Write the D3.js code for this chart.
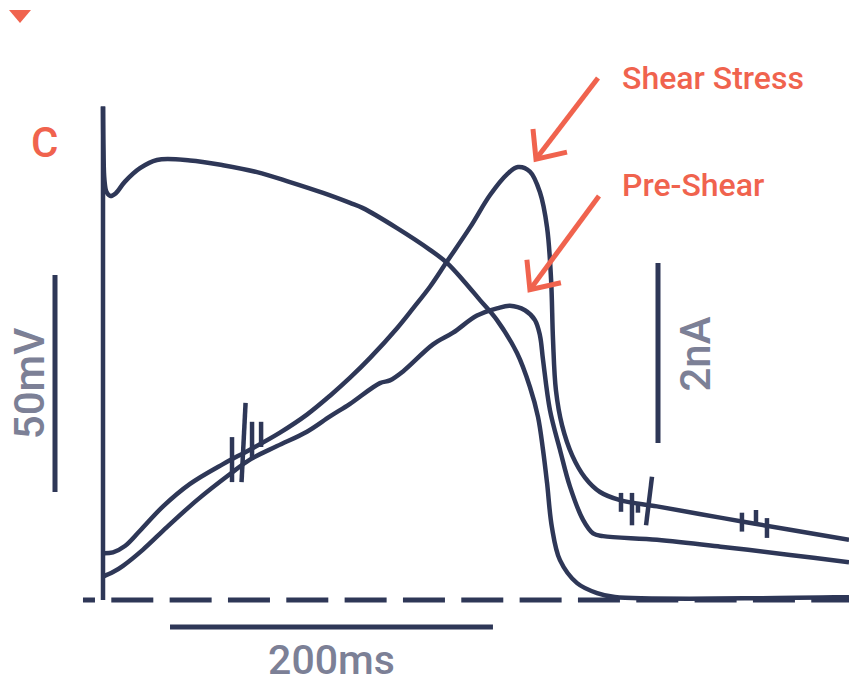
<!DOCTYPE html>
<html>
<head>
<meta charset="utf-8">
<script src="https://cdn.jsdelivr.net/npm/d3@7"></script>
<style>
  html, body { margin: 0; padding: 0; background: #ffffff; }
  svg { display: block; }
</style>
</head>
<body>
<svg id="fig" width="849" height="684"></svg>
<script>
// Action potential waveform used as the voltage command: [time ms, membrane potential mV]
const apTime = [0, 0.3, 0.9, 2.2, 4.6, 7.8, 13.6, 22.9, 33.4, 53.9, 74.3, 95.4, 115.8, 136.3, 153, 161,
  182.1, 202.5, 213, 223, 233.5, 244, 256.4, 264.4, 269.4, 272.5, 275, 278, 283, 293.6, 306, 317, 462];
const apVoltage = [28, 18, 11.1, 8.3, 7.4, 8.0, 10.7, 13.8, 15.7, 15.6, 14.5, 12.9, 10.6, 8.1, 5.8, 4.6,
  0.0, -5.0, -8.0, -12.0, -16.6, -21.2, -28.8, -36.6, -43.5, -51.1, -58.7, -68.9, -76.5, -81.8, -84.1, -85, -85];

// Current recorded before shear: [time ms, current nA]
const preShearTime = [0, 6.2, 12.4, 24.8, 39.6, 58.2, 78.7, 91, 107.8, 126.3, 140.6, 153, 171.5, 177.7, 185.8,
  204.4, 216.8, 231.6, 244, 252, 261.3, 267.5, 270.6, 272.5, 276.8, 283, 289.2, 297.3, 303.5, 309.7, 343.1, 384, 425.5, 462];
const preShearCurrent = [0.26, 0.31, 0.38, 0.56, 0.81, 1.11, 1.40, 1.56, 1.71, 1.87, 2.04, 2.18, 2.41, 2.44, 2.54,
  2.84, 2.97, 3.16, 3.24, 3.27, 3.22, 3.11, 2.94, 2.67, 2.11, 1.67, 1.26, 0.89, 0.74, 0.71, 0.67, 0.59, 0.50, 0.42];

// Current recorded under shear stress: [time ms, current nA]
const shearTime = [0, 6.2, 13.6, 22.9, 37.2, 53.9, 74.3, 91, 109.6, 126.3, 140.6, 153, 165.4, 182.1, 192, 202.5,
  213, 227.3, 239.7, 250.2, 257, 264.4, 270.6, 275, 277.5, 278.7, 280.5, 284.3, 290.5, 298.5, 307.8, 320.2, 343.1, 384, 425.5, 462];
const shearCurrent = [0.52, 0.53, 0.60, 0.77, 1.04, 1.29, 1.51, 1.67, 1.86, 2.06, 2.27, 2.47, 2.69, 3.02, 3.24, 3.48,
  3.76, 4.14, 4.50, 4.73, 4.81, 4.76, 4.53, 4.14, 3.56, 2.89, 2.33, 1.94, 1.61, 1.36, 1.20, 1.11, 1.04, 0.91, 0.78, 0.67];

// Break marks drawn across the current traces: [t1, i1, t2, i2]
const breakMarks = [
  [79.9, 1.31, 79.9, 1.81], [85.8, 1.31, 88.3, 2.19], [92.3, 1.58, 92.3, 1.98], [97.9, 1.70, 97.9, 1.98],
  [320.8, 0.98, 320.8, 1.19], [327.6, 0.83, 327.6, 1.19], [331.3, 0.97, 331.3, 1.08], [336.3, 0.83, 340.0, 1.37],
  [395.7, 0.76, 395.7, 0.97], [404.4, 0.83, 404.4, 1.00], [411.2, 0.69, 411.2, 0.91]
];

// Scale bar sizes and their labels
const timeBar = 200, voltBar = 50, currentBar = 2;
const scaleLabels = ["200ms", "50mV", "2nA"];
const traceLabels = ["Shear Stress", "Pre-Shear"];
const panelLetter = "C";

const navy = "#2e3757", coral = "#f0634e", grey = "#7c8096";

const svg = d3.select("#fig");
svg.append("rect").attr("width", 849).attr("height", 684).attr("fill", "#fff");

const x = d3.scaleLinear().domain([0, 462]).range([103, 849]);
const yV = d3.scaleLinear().domain([-85, -35]).range([597, 380]);
const yI = d3.scaleLinear().domain([0, 2]).range([600, 420]);

const traces = svg.append("g")
  .attr("fill", "none").attr("stroke", navy).attr("stroke-width", 4.5)
  .attr("stroke-linejoin", "round").attr("stroke-linecap", "butt");

// zero-current reference (dashed)
traces.append("line")
  .attr("x1", x(-12.4)).attr("x2", x(462)).attr("y1", yI(0)).attr("y2", yI(0))
  .attr("stroke-width", 5).attr("stroke-dasharray", "42 16.33").attr("stroke-dashoffset", 30);

const curve = d3.curveCatmullRom.alpha(0.5);

const apData = apTime.map((t, i) => [t, apVoltage[i]]);
// upstroke
traces.append("line")
  .attr("x1", x(0)).attr("x2", x(0))
  .attr("y1", yI(0)).attr("y2", yV(apVoltage[0]));
traces.append("path")
  .attr("d", d3.line().x(d => x(d[0])).y(d => yV(d[1])).curve(curve)(apData));

const iLine = d3.line().x(d => x(d[0])).y(d => yI(d[1])).curve(curve);
const preData = preShearTime.map((t, i) => [t, preShearCurrent[i]]);
const shearData = shearTime.map((t, i) => [t, shearCurrent[i]]);
traces.append("path").attr("d", iLine(preData));
traces.append("path").attr("d", iLine(shearData));

traces.selectAll("line.brk").data(breakMarks).join("line")
  .attr("class", "brk").attr("stroke-width", 4.5)
  .attr("x1", d => x(d[0])).attr("y1", d => yI(d[1]))
  .attr("x2", d => x(d[2])).attr("y2", d => yI(d[3]));

// Scale bars
const bars = svg.append("g").attr("stroke", navy).attr("stroke-width", 5);
const tStart = 41.5;
bars.append("line").attr("x1", x(tStart)).attr("x2", x(tStart + timeBar)).attr("y1", 627).attr("y2", 627);
const vStart = -60.8;
bars.append("line").attr("x1", 55).attr("x2", 55).attr("y1", yV(vStart)).attr("y2", yV(vStart + voltBar));
const iStart = 1.744;
bars.append("line").attr("x1", 658).attr("x2", 658).attr("y1", yI(iStart)).attr("y2", yI(iStart + currentBar));

const labels = svg.append("g").attr("font-family", "Roboto, 'Noto Sans', sans-serif")
  .attr("fill", grey).attr("font-size", 42).attr("font-weight", 500);
labels.append("text").attr("x", (x(tStart) + x(tStart + timeBar)) / 2).attr("y", 674)
  .attr("font-size", 41).attr("text-anchor", "middle").text(scaleLabels[0]);
labels.append("text").attr("transform", `translate(44,${(yV(vStart) + yV(vStart + voltBar)) / 2}) rotate(-90)`)
  .attr("text-anchor", "middle").text(scaleLabels[1]);
labels.append("text").attr("transform", `translate(710,354) rotate(-90)`)
  .attr("text-anchor", "middle").text(scaleLabels[2]);

// Annotations
const ann = svg.append("g").attr("font-family", "Roboto, 'Noto Sans', sans-serif")
  .attr("fill", coral).attr("font-weight", 500);
ann.append("path").attr("d", "M9,10 L31,10 L20,23 Z");
ann.append("text").attr("x", 31).attr("y", 157).attr("font-size", 42).text(panelLetter);
ann.append("text").attr("x", 622).attr("y", 89).attr("font-size", 32).text(traceLabels[0]);
ann.append("text").attr("x", 622).attr("y", 196).attr("font-size", 32).text(traceLabels[1]);

// Arrows pointing at the two current peaks
function peak(data) { return data.reduce((a, b) => (b[1] > a[1] ? b : a)); }
const arrows = [
  { tip: [x(peak(shearData)[0]) + 18, yI(peak(shearData)[1]) - 8], tail: [598, 78] },
  { tip: [x(peak(preData)[0]) + 20, yI(peak(preData)[1]) - 16], tail: [599, 196] }
];
const ag = svg.append("g").attr("stroke", coral).attr("stroke-width", 5).attr("fill", "none")
  .attr("stroke-linejoin", "miter").attr("stroke-linecap", "butt");
arrows.forEach(a => {
  const [tx, ty] = a.tip;
  ag.append("line").attr("x1", a.tail[0]).attr("y1", a.tail[1]).attr("x2", tx).attr("y2", ty);
  ag.append("path").attr("d", `M${tx - 3},${ty - 30} L${tx},${ty} L${tx + 31},${ty - 7}`);
});
</script>
</body>
</html>
